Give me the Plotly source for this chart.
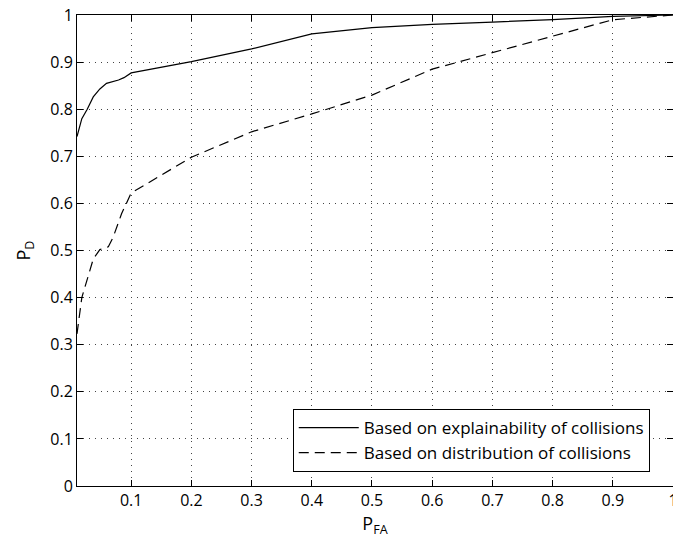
import plotly.graph_objects as go

# Solid curve: based on explainability of collisions
pfa_expl = [0.01, 0.018, 0.027, 0.037, 0.048, 0.059, 0.079, 0.088, 0.1, 0.2, 0.3, 0.4, 0.5, 0.6, 0.7, 0.8, 0.9, 1.0]
pd_expl = [0.742, 0.78, 0.80, 0.826, 0.843, 0.855, 0.862, 0.867, 0.877, 0.901, 0.928, 0.96, 0.973, 0.98, 0.985, 0.99, 0.997, 1.0]

# Dashed curve: based on distribution of collisions
pfa_dist = [0.01, 0.012, 0.018, 0.037, 0.048, 0.062, 0.07, 0.084, 0.098, 0.1, 0.2, 0.3, 0.4, 0.5, 0.6, 0.7, 0.8, 0.9, 1.0]
pd_dist = [0.323, 0.344, 0.40, 0.482, 0.502, 0.508, 0.528, 0.578, 0.615, 0.622, 0.698, 0.752, 0.79, 0.83, 0.885, 0.92, 0.955, 0.99, 1.0]

x_ticks = [0.1, 0.2, 0.3, 0.4, 0.5, 0.6, 0.7, 0.8, 0.9, 1]
y_ticks = [0, 0.1, 0.2, 0.3, 0.4, 0.5, 0.6, 0.7, 0.8, 0.9, 1]

FONT = "Open Sans"

fig = go.Figure()
fig.add_trace(go.Scatter(x=pfa_expl, y=pd_expl, mode="lines",
                         name="Based on explainability of collisions",
                         line=dict(color="black", width=1.2)))
fig.add_trace(go.Scatter(x=pfa_dist, y=pd_dist, mode="lines",
                         name="Based on distribution of collisions",
                         line=dict(color="black", width=1.2, dash="10px,6px")))

axis_common = dict(showline=True, linecolor="black", linewidth=1, mirror="ticks",
                   ticks="inside", ticklen=6, tickcolor="black",
                   showgrid=True, gridcolor="#444", griddash="1px,5px", gridwidth=1,
                   zeroline=False, automargin=False, ticklabeloverflow="allow",
                   tickfont=dict(family=FONT, size=16, color="black"))

fig.update_xaxes(range=[0.01, 1], tickvals=x_ticks, ticktext=[("%g" % v) for v in x_ticks],
                 title=dict(text="P<sub>FA</sub>", font=dict(family=FONT, size=18, color="black"), standoff=4),
                 **axis_common)
fig.update_yaxes(range=[0, 1], tickvals=y_ticks, ticktext=[("%g" % v) for v in y_ticks],
                 title=dict(text="P<sub>D</sub>", font=dict(family=FONT, size=18, color="black"), standoff=14),
                 **axis_common)

fig.update_layout(
    width=673, height=542,
    margin=dict(l=77, r=0, t=15, b=56),
    plot_bgcolor="white", paper_bgcolor="white",
    font=dict(family=FONT, size=16, color="black"),
    hovermode=False,
    legend=dict(x=0.362, y=0.1635, xanchor="left", yanchor="top",
                bgcolor="white", bordercolor="black", borderwidth=1,
                itemwidth=60,
                font=dict(family=FONT, size=17, color="black")),
)

fig.write_html("out.html",
               config={"displayModeBar": False},
               post_script="document.body.style.margin='0';document.body.style.overflow='hidden';")
